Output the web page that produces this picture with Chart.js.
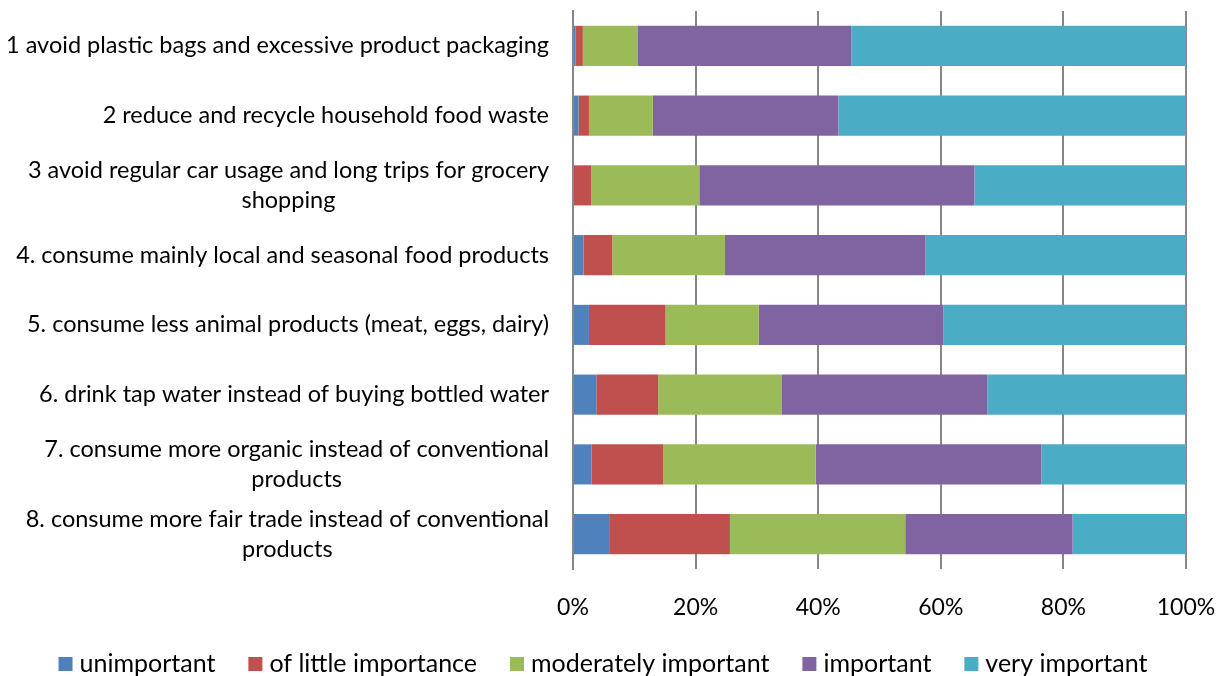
<!DOCTYPE html>
<html>
<head>
<meta charset="utf-8">
<script src="https://cdn.jsdelivr.net/npm/chart.js@4/dist/chart.umd.min.js"></script>
<style>
  body { margin: 0; background: #fff; }
  #contenedor { width: 1218px; height: 676px; }
</style>
</head>
<body>
<div id="contenedor"><canvas id="grafico"></canvas></div>
<script>
const acciones = [
    "1 avoid plastic bags and excessive product packaging",
    "2 reduce and recycle household food waste",
    ["3 avoid regular car usage and long trips for grocery", "shopping"],
    "4. consume mainly local and seasonal food products",
    "5. consume less animal products (meat, eggs, dairy)",
    "6. drink tap water instead of buying bottled water",
    ["7. consume more organic instead of conventional", "products"],
    ["8. consume more fair trade instead of conventional", "products"],
];
const nivelesImportancia = ["unimportant", "of little importance", "moderately important", "important", "very important"];
const colores = ["#4F81BD", "#C0504D", "#9BBB59", "#8064A2", "#4BACC6"];

// porcentajes de respuestas por accion
const unimportant = [0.4, 0.9, 0, 1.7, 2.6, 3.8, 3.0, 5.9];
const littleImportance = [1.2, 1.7, 3.0, 4.7, 12.5, 10.1, 11.7, 19.7];
const moderatelyImportant = [9.0, 10.4, 17.6, 18.4, 15.2, 20.1, 24.9, 28.6];
const important = [34.8, 30.3, 44.9, 32.7, 30.1, 33.6, 36.8, 27.3];
const veryImportant = [54.6, 56.7, 34.5, 42.5, 39.6, 32.4, 23.6, 18.5];
const series = [unimportant, littleImportance, moderatelyImportant, important, veryImportant];

const fuente = "Lato, Carlito, Calibri, sans-serif";

// etiquetas del eje y: una linea alineada a la derecha, varias lineas centradas entre si
const etiquetasAcciones = {
    id: "etiquetasAcciones",
    afterDraw(chart) {
        const ctx = chart.ctx;
        const ejeY = chart.scales.y;
        const derecha = chart.chartArea.left - 24;
        const alto = 30;
        ctx.save();
        ctx.font = "23.5px " + fuente;
        ctx.fillStyle = "#000";
        ctx.textBaseline = "middle";
        acciones.forEach((etiqueta, i) => {
            const lineas = Array.isArray(etiqueta) ? etiqueta : [etiqueta];
            const centro = ejeY.getPixelForValue(i);
            let x = derecha;
            if (lineas.length > 1) {
                const ancho = Math.max(...lineas.map((l) => ctx.measureText(l).width));
                x = derecha - ancho / 2;
                ctx.textAlign = "center";
            } else {
                ctx.textAlign = "right";
            }
            lineas.forEach((l, k) => {
                ctx.fillText(l, x, centro + (k - (lineas.length - 1) / 2) * alto);
            });
        });
        ctx.restore();
    },
};

// leyenda en una fila debajo del eje x
const leyenda = {
    id: "leyenda",
    afterDraw(chart) {
        const ctx = chart.ctx;
        const caja = 14, separacion = 7, entreItems = 33;
        const yCentro = chart.height - 12;
        ctx.save();
        ctx.font = "25px " + fuente;
        ctx.textBaseline = "middle";
        ctx.textAlign = "left";
        const anchos = nivelesImportancia.map((t) => ctx.measureText(t).width);
        const total = anchos.reduce((a, b) => a + b, 0) + nivelesImportancia.length * (caja + separacion) + (nivelesImportancia.length - 1) * entreItems;
        let x = chart.width / 2 - 6 - total / 2;
        nivelesImportancia.forEach((texto, i) => {
            ctx.fillStyle = colores[i];
            ctx.fillRect(x, yCentro - caja / 2, caja, caja);
            ctx.fillStyle = "#000";
            ctx.fillText(texto, x + caja + separacion, yCentro);
            x += caja + separacion + anchos[i] + entreItems;
        });
        ctx.restore();
    },
};

new Chart(document.querySelector("#grafico").getContext("2d"), {
    type: "bar",
    data: {
        labels: acciones,
        datasets: series.map((valores, i) => ({
            label: nivelesImportancia[i],
            data: valores,
            backgroundColor: colores[i],
            barPercentage: 0.575,
            categoryPercentage: 1,
        })),
    },
    options: {
        indexAxis: "y",
        responsive: true,
        maintainAspectRatio: false,
        animation: false,
        layout: {
            padding: { top: 11, right: 32, left: 0, bottom: 47 },
        },
        scales: {
            x: {
                stacked: true,
                min: 0,
                max: 100,
                ticks: {
                    stepSize: 20,
                    padding: 25,
                    color: "#000",
                    font: { family: fuente, size: 23 },
                    callback: (v) => v + "%",
                },
                grid: { color: "#868686", lineWidth: 2, drawTicks: false },
                border: { display: false },
                afterFit: (escala) => {
                    escala.height = 60;
                    escala.paddingLeft = 0;
                    escala.paddingRight = 0;
                },
            },
            y: {
                stacked: true,
                ticks: { display: false },
                grid: { display: false },
                border: { color: "#868686", width: 2 },
                afterFit: (escala) => { escala.width = 573; },
            },
        },
        plugins: {
            legend: { display: false },
            tooltip: { enabled: false },
        },
    },
    plugins: [etiquetasAcciones, leyenda],
});
</script>
</body>
</html>
